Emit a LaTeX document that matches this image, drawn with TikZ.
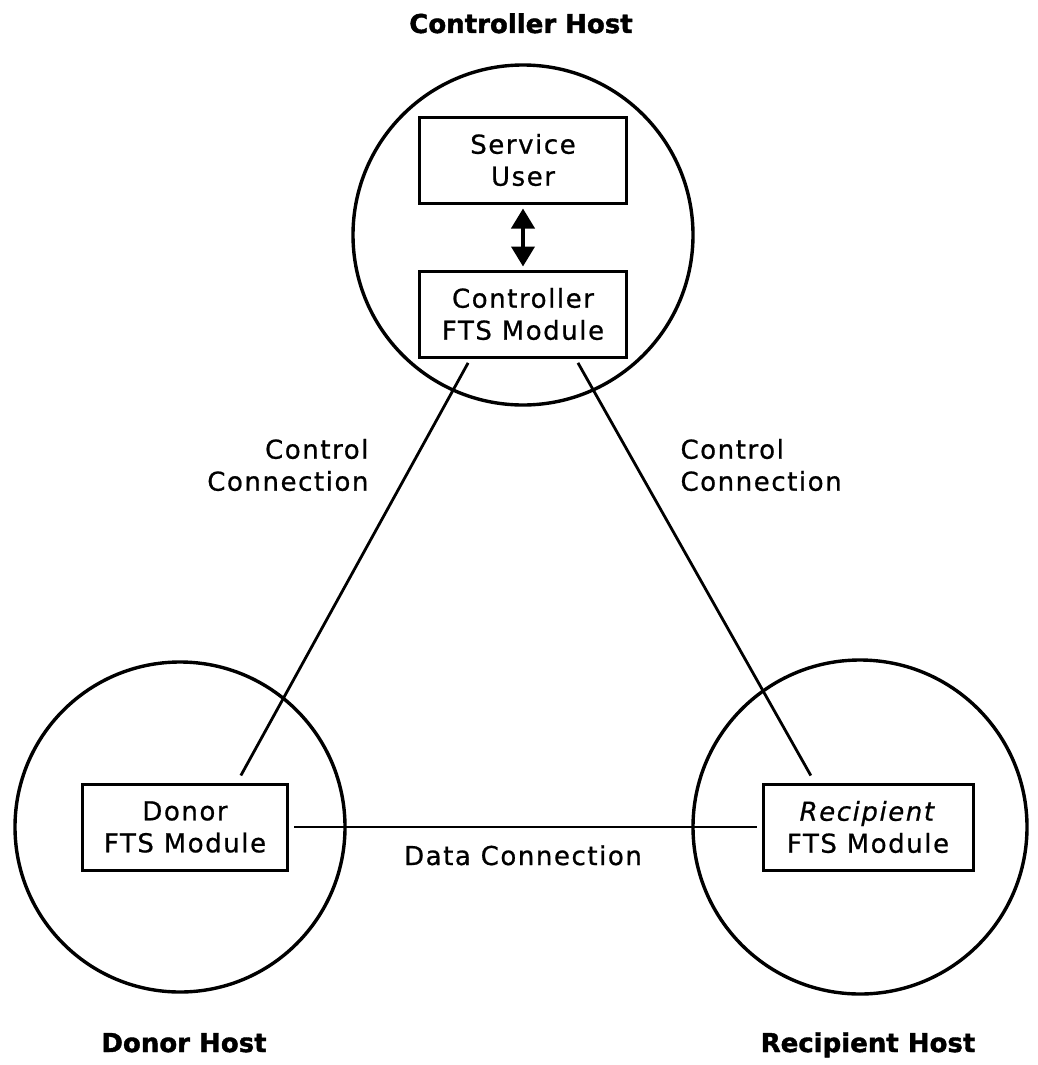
\documentclass[tikz,border=0pt]{standalone}
\usepackage{fontspec}
\setmainfont{DejaVu Sans}[LetterSpace=6,FakeBold=0.8]
\newfontfamily\hostfont{DejaVu Sans Bold}[FakeBold=1.5]
\usetikzlibrary{arrows.meta,calc}

\begin{document}
\begin{tikzpicture}[x=1pt,y=-1pt,
 every node/.style={font=\fontsize{26}{32}\selectfont},
 host/.style={draw,circle,line width=3.4pt,inner sep=0pt},
 box/.style={draw,line width=3pt,align=center,minimum width=207pt,minimum height=86pt,inner sep=0pt},
 link/.style={line width=2.8pt,shorten <=5pt,shorten >=8pt},
 title/.style={anchor=base,font=\hostfont\fontsize{26}{32}\selectfont}]
\useasboundingbox (0,0) rectangle (1037,1065);
% hosts
\node[host,minimum size=340pt] (ctrlhost) at (523,235) {};
\node[host,minimum size=330pt] (donorhost) at (180,827) {};
\node[host,minimum size=334pt] (recphost) at (860,827) {};
\node[title] (ctrltitle) at (521,33) {Controller Host};
\node[title] (donortitle) at (184,1052) {Donor Host};
\node[title] (recptitle) at (868,1052) {Recipient Host};
% modules
\node[box] (user) at (523,160) {Service\\User};
\node[box] (ctrl) at (523,314) {Controller\\FTS Module};
\node[box,minimum width=205pt] (donor) at (185,827) {Donor\\FTS Module};
\node[box,minimum width=210pt] (recp) at (868,827) {\textit{Recipient}\\FTS Module};
\draw[line width=4pt,{Triangle[length=20pt,width=23pt]}-{Triangle[length=20pt,width=23pt]},shorten <=4pt,shorten >=3pt] (user)--(ctrl);
% connections
\draw[link] ($(ctrl.south west)!.25!(ctrl.south east)$)--($(donor.north west)!.75!(donor.north east)$);
\draw[link] ($(ctrl.south west)!.75!(ctrl.south east)$)--($(recp.north west)!.25!(recp.north east)$);
\draw[link,shorten >=5pt] (donor.east)--(recp.west);
\node[align=right,anchor=east] (leftlbl) at (372,465) {Control\\Connection};
\node[align=left,anchor=west] (rightlbl) at (677,465) {Control\\Connection};
\node[anchor=base] (datalbl) at (523,865) {Data Connection};
\end{tikzpicture}
\end{document}
